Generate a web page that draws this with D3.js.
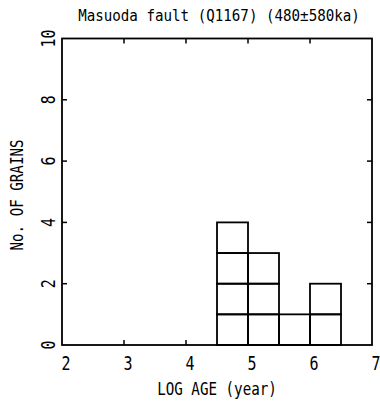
<!DOCTYPE html>
<html><head><meta charset="utf-8">
<script src="https://cdn.jsdelivr.net/npm/d3@7"></script>
<style>body{margin:0;background:#fff}svg{display:block}text{font-family:"DejaVu Sans Mono","Liberation Mono",monospace;fill:#000}</style>
</head><body><svg id="c" width="380" height="401"></svg>
<script>
const binStarts = [4.5, 5.0, 5.5, 6.0];
const binCounts = [4, 3, 1, 2];
const binWidth = 0.5;
const xTicks = [2, 3, 4, 5, 6, 7];
const yTicks = [0, 2, 4, 6, 8, 10];
const title = "Masuoda fault (Q1167) (480±580ka)";
const xLabel = "LOG AGE (year)";
const yLabel = "No. OF GRAINS";

const svg = d3.select("#c");
const x = d3.scaleLinear().domain([2, 7]).range([62, 372]);
const y = d3.scaleLinear().domain([0, 10]).range([345, 38.5]);

// boxes
const boxes = [];
binStarts.forEach((s, i) => { for (let k = 0; k < binCounts[i]; k++) boxes.push({s, k}); });
svg.append("g").selectAll("rect").data(boxes).join("rect")
  .attr("x", d => x(d.s)).attr("width", d => x(d.s + binWidth) - x(d.s))
  .attr("y", d => y(d.k + 1)).attr("height", d => y(d.k) - y(d.k + 1))
  .attr("fill", "none").attr("stroke", "#000").attr("stroke-width", 1.8);

// frame
svg.append("rect").attr("x", x(2)).attr("y", y(10)).attr("width", x(7) - x(2)).attr("height", y(0) - y(10))
  .attr("fill", "none").attr("stroke", "#000").attr("stroke-width", 1.8);

const tl = 5;
const ax = svg.append("g").attr("stroke", "#000").attr("stroke-width", 1.5);
xTicks.slice(1, -1).forEach(t => {
  ax.append("line").attr("x1", x(t)).attr("x2", x(t)).attr("y1", y(0)).attr("y2", y(0) - tl);
  ax.append("line").attr("x1", x(t)).attr("x2", x(t)).attr("y1", y(10)).attr("y2", y(10) + tl);
});
yTicks.slice(1, -1).forEach(t => {
  ax.append("line").attr("x1", x(2)).attr("x2", x(2) + tl).attr("y1", y(t)).attr("y2", y(t));
  ax.append("line").attr("x1", x(7)).attr("x2", x(7) - tl).attr("y1", y(t)).attr("y2", y(t));
});

svg.append("g").selectAll("text").data(xTicks).join("text")
  .attr("transform", d => `translate(${x(d) + 4},370) scale(1,1.25)`).attr("text-anchor", "middle")
  .attr("font-size", 15).text(d => d);

svg.append("g").selectAll("text").data(yTicks).join("text")
  .attr("transform", d => `translate(55,${y(d)}) rotate(-90) scale(1,1.25)`).attr("text-anchor", "middle")
  .attr("font-size", 15).text(d => d);

svg.append("text").attr("transform", "translate(219,21) scale(1,1.1)").attr("text-anchor", "middle").attr("font-size", 14.2).text(title);
svg.append("text").attr("transform", "translate(217,395) scale(1,1.25)").attr("text-anchor", "middle").attr("font-size", 14.2).text(xLabel);
svg.append("text").attr("transform", "translate(23,195) rotate(-90) scale(1,1.2)").attr("text-anchor", "middle").attr("font-size", 14.2).text(yLabel);
</script></body></html>
